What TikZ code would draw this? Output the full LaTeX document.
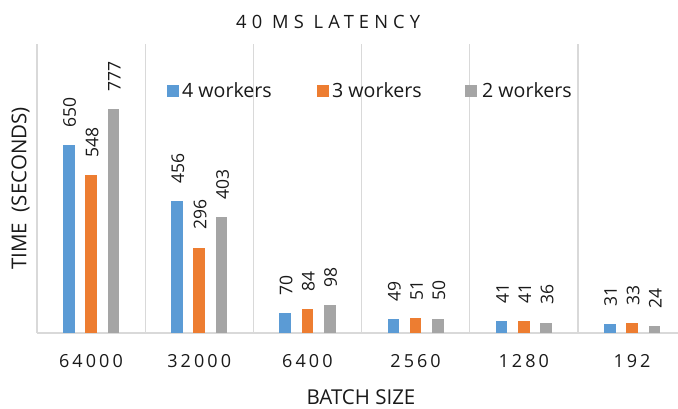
\documentclass[tikz,border=0pt]{standalone}
\usepackage{fontspec}
\setmainfont{Open Sans}
\newfontfamily\widefont[LetterSpace=17]{Open Sans}
\newfontfamily\titlefont[LetterSpace=28]{Open Sans}
\definecolor{serfour}{HTML}{5B9BD5}
\definecolor{serthree}{HTML}{ED7D31}
\definecolor{sertwo}{HTML}{A5A5A5}
\definecolor{gridgray}{HTML}{D9D9D9}
\definecolor{ink}{HTML}{1A1A1A}
\begin{document}
\begin{tikzpicture}[x=1pt,y=-1pt,
  every node/.append style={text=ink, inner sep=0pt},
  gridline/.style={draw=gridgray, line width=1.2pt},
  vallabel/.style={rotate=90, anchor=west, font=\fontsize{17.5}{20}\selectfont},
  legtext/.style={anchor=base west, font=\fontsize{19.6}{22}\selectfont},
  catlabel/.style={anchor=base, font=\widefont\fontsize{18}{20}\selectfont},
  axtitle/.style={anchor=base, font=\fontsize{20.5}{22}\selectfont}]
\useasboundingbox (0,0) rectangle (678,408);
\fill[white] (0,0) rectangle (678,408);

% vertical category separators and the horizontal axis
\foreach \i in {0,...,5}
  \draw[gridline] ({37+108.2*\i},44) -- ({37+108.2*\i},333);
\draw[gridline] (37,333) -- (678,333);

% chart title
\node[anchor=base west, font=\titlefont\fontsize{18.3}{20}\selectfont] (title) at (236,28) {40 MS LATENCY};

% legend
\fill[serfour] (167,84.5) rectangle (179,96.5);
\node[legtext] (leg4) at (182,97) {4 workers};
\fill[serthree] (316.5,84.5) rectangle (328.5,96.5);
\node[legtext] (leg3) at (332,97) {3 workers};
\fill[sertwo] (465,84.5) rectangle (477,96.5);
\node[legtext] (leg2) at (482,97) {2 workers};

% bars, value labels and category labels
\foreach \i/\name/\a/\b/\c in {0/64000/650/548/777, 1/32000/456/296/403,
    2/6400/70/84/98, 3/2560/49/51/50, 4/1280/41/41/36, 5/192/31/33/24} {
  \pgfmathsetmacro\cx{37+108.2*\i+54}
  \pgfmathsetmacro\xa{\cx-22.3}
  \pgfmathsetmacro\xc{\cx+22.3}
  \pgfmathsetmacro\ya{333-\a*0.2885}
  \pgfmathsetmacro\yb{333-\b*0.2885}
  \pgfmathsetmacro\yc{333-\c*0.2885}
  \fill[serfour]  ({\xa-5.8},333) rectangle ({\xa+5.8},\ya);
  \fill[serthree] ({\cx-5.8},333) rectangle ({\cx+5.8},\yb);
  \fill[sertwo]   ({\xc-5.8},333) rectangle ({\xc+5.8},\yc);
  \node[vallabel] (va-\i) at ({\xa+1},{\ya-17.5}) {\a};
  \node[vallabel] (vb-\i) at ({\cx+1},{\yb-17.5}) {\b};
  \node[vallabel] (vc-\i) at ({\xc+1},{\yc-17.5}) {\c};
  \node[catlabel] (cat-\i) at (\cx,367.5) {\name};
}

% axis titles
\node[axtitle] (xtitle) at (361,404) {BATCH SIZE};
\node[axtitle, rotate=90] (ytitle) at (26.5,188.5) {TIME\ \ (SECONDS)};
\end{tikzpicture}
\end{document}
